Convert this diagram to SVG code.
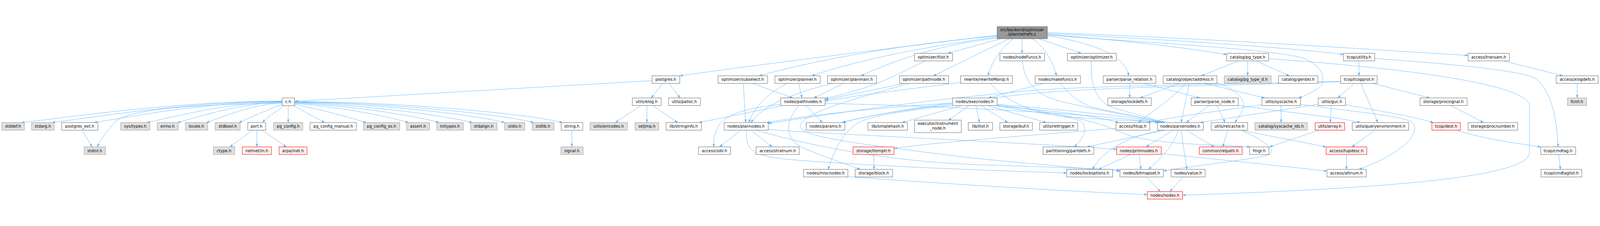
<svg xmlns="http://www.w3.org/2000/svg" width="5263" height="579" viewBox="0 0 5263 579" style="width:100%;height:100%">
<defs>
<marker id="a" markerUnits="userSpaceOnUse" viewBox="0 0 10 7" refX="10" refY="3.5" markerWidth="10" markerHeight="7" orient="auto">
<path d="M0,0 L10,3.5 L0,7 z" fill="#63b8ff" stroke="#63b8ff" stroke-width="0.6"/>
</marker>
<style>
.e path{fill:none;stroke:#63b8ff;stroke-width:1.2;marker-end:url(#a)}
rect{fill:#ffffff;stroke:#666666;stroke-width:1.3}
.g rect{fill:#e0e0e0;stroke:#999999}
.r rect{fill:#fff0f0;stroke:#ff0000}
.t rect{fill:#999999;stroke:#666666}
text{font-family:"DejaVu Sans","Liberation Sans",sans-serif;font-size:13px;text-anchor:middle;fill:#000000}
</style>
</defs>
<rect x="0" y="0" width="5263" height="579" style="fill:#ffffff;stroke:none"/>
<g id="edges" class="e">
<path d="M3280,33 C2900,80 2500,130 2236,167"/>
<path d="M3280,36 C3000,60 2700,110 2497,167"/>
<path d="M3280,39 C3050,70 2820,115 2670,167"/>
<path d="M3280,42 C3150,60 3010,85 2832,167"/>
<path d="M3292,45 L3117,93"/>
<path d="M3320,45 L3070,167"/>
<path d="M3332,45 C3290,80 3262,120 3250,167"/>
<path d="M3362,45 L3362,93"/>
<path d="M3395,45 C3425,62 3462,110 3475,167"/>
<path d="M3417,45 L3557,93"/>
<path d="M3445,35 C3600,60 3700,100 3713,167"/>
<path d="M3445,31 C3700,50 3900,75 4035,97"/>
<path d="M3445,33 C3800,60 4200,80 4290,110 C4345,135 4355,160 4350,190 C4345,210 4300,229 4272,240"/>
<path d="M3445,28 C3900,50 4300,80 4419,97"/>
<path d="M3445,25 C4000,45 4500,80 4829,100"/>
<path d="M2145,183 L970,251"/>
<path d="M2179,192 L2142,240"/>
<path d="M2201,192 L2237,240"/>
<path d="M928,250 C585,252 285,296 70,321"/>
<path d="M928,251 C625,253 360,296 171,321"/>
<path d="M928,252 C680,254 464,296 309,321"/>
<path d="M928,253 C750,256 594,297 483,321"/>
<path d="M928,254 C790,258 670,297 584,321"/>
<path d="M928,256 C828,262 741,299 679,321"/>
<path d="M930,261 C880,279 822,304 786,321"/>
<path d="M935,265 C905,289 875,304 864,321"/>
<path d="M928,257 C600,262 420,280 380,318 C355,343 330,378 320,401"/>
<path d="M948,265 L948,321"/>
<path d="M965,265 L1068,321"/>
<path d="M969,261 C1060,279 1150,304 1205,321"/>
<path d="M969,258 C1120,270 1270,299 1343,321"/>
<path d="M969,256 C1160,266 1370,299 1444,321"/>
<path d="M969,255 C1200,262 1470,299 1553,321"/>
<path d="M969,254 C1250,258 1570,297 1660,321"/>
<path d="M969,253 C1280,255 1660,295 1755,321"/>
<path d="M969,252 C1320,252 1750,294 1850,321"/>
<path d="M270,346 L303,401"/>
<path d="M830,346 L756,401"/>
<path d="M845,346 L845,401"/>
<path d="M862,346 L942,401"/>
<path d="M1881,346 L1881,401"/>
<path d="M2108,265 L2024,321"/>
<path d="M2128,265 L2128,321"/>
<path d="M2147,265 L2229,321"/>
<path d="M2475,192 L2608,240"/>
<path d="M2445,192 L2453,321"/>
<path d="M2627,192 L2638,240"/>
<path d="M2590,192 C2530,220 2480,270 2463,321"/>
<path d="M2775,192 L2677,240"/>
<path d="M2738,192 C2650,215 2520,250 2470,321"/>
<path d="M3045,118 C2950,160 2900,200 2714,242"/>
<path d="M2975,192 C2880,212 2780,232 2714,246"/>
<path d="M2993,192 C2780,250 2610,300 2635,340 C2660,375 2900,400 3200,438 C3450,462 3600,475 3684,481"/>
<path d="M3160,189 C2950,215 2800,235 2714,250"/>
<path d="M3257,192 C3320,260 3400,290 3520,303 C3650,313 3780,316 3823,321"/>
<path d="M3434,192 L3251,240"/>
<path d="M3488,192 C3530,240 3560,265 3620,277 C3700,293 3780,308 3827,321"/>
<path d="M3363,118 C3370,200 3420,235 3500,254 C3650,288 3780,310 3820,321"/>
<path d="M3590,118 C3585,200 3610,255 3660,271 C3730,293 3800,311 3832,321"/>
<path d="M3716,192 L3716,240"/>
<path d="M3762,192 L3947,240"/>
<path d="M4073,118 L3952,167"/>
<path d="M4104,118 L4104,167"/>
<path d="M4132,118 L4241,167"/>
<path d="M4173,111 C4600,140 5000,190 5031,260 L5031,420 C5031,497 4600,537 3890,560"/>
<path d="M3879,192 L3750,240"/>
<path d="M3899,192 C3850,250 3780,290 3745,321"/>
<path d="M3912,192 L3885,321"/>
<path d="M3963,192 L4160,240"/>
<path d="M4003,190 C4060,210 4095,240 4090,270 C4085,293 4070,308 4062,321"/>
<path d="M3977,265 L3902,321"/>
<path d="M4003,265 L4030,321"/>
<path d="M4073,264 C4250,290 4400,303 4475,321"/>
<path d="M4151,262 C4000,285 3850,303 3775,321"/>
<path d="M4214,265 L4214,321"/>
<path d="M4278,261 C4450,285 4620,300 4645,320 C4680,360 4600,428 4470,475"/>
<path d="M4336,261 L3947,321"/>
<path d="M4379,265 L4376,321"/>
<path d="M4426,262 C4550,285 4660,303 4714,321"/>
<path d="M4455,192 L4400,240"/>
<path d="M4476,192 L4532,321"/>
<path d="M4515,192 L4703,240"/>
<path d="M4410,187 C4000,200 3600,205 3400,225 C3100,255 2850,298 2772,321"/>
<path d="M4410,185 C4000,195 3600,200 3400,215 C3000,250 2700,298 2527,324"/>
<path d="M4470,118 L4470,167"/>
<path d="M4522,110 C4800,130 5000,150 5050,175 C5110,220 5122,330 5125,401"/>
<path d="M4944,118 L5141,167"/>
<path d="M5188,192 L5188,240"/>
<path d="M4773,265 L4880,321"/>
<path d="M4793,346 C4870,373 4980,388 5068,401"/>
<path d="M5127,426 L5133,475"/>
<path d="M3133,257 C2900,270 2650,298 2522,321"/>
<path d="M3133,261 C3000,275 2850,298 2770,321"/>
<path d="M3163,265 L2967,321"/>
<path d="M3188,265 L3120,313"/>
<path d="M3210,265 L3222,321"/>
<path d="M3227,265 L3315,321"/>
<path d="M3249,265 L3442,321"/>
<path d="M3133,265 C2950,285 2850,300 2810,330 C2760,370 2740,428 2724,475"/>
<path d="M3280,267 C3450,280 3600,298 3680,321"/>
<path d="M3280,261 C3500,280 3700,298 3815,321"/>
<path d="M3280,265 C3400,290 3540,300 3560,320 C3580,345 3560,378 3533,401"/>
<path d="M3280,263 C3500,290 3620,320 3700,358 C3780,393 4000,394 4112,401"/>
<path d="M2568,261 C2400,280 2345,310 2348,401"/>
<path d="M2574,265 L2299,321"/>
<path d="M2652,265 L2705,321"/>
<path d="M2628,265 C2580,320 2580,380 2650,408 C2720,437 2780,457 2830,475"/>
<path d="M2714,258 C3000,264 3500,283 3810,321"/>
<path d="M2438,346 L2367,401"/>
<path d="M2470,346 L2540,401"/>
<path d="M2527,344 C2800,363 3300,383 3673,409"/>
<path d="M2456,346 C2450,418 2480,430 2600,443 C2900,467 3300,480 3509,487"/>
<path d="M2487,346 C2650,393 2900,447 3200,459 C3450,467 3600,473 3684,477"/>
<path d="M3672,340 C3400,363 3100,383 2941,406"/>
<path d="M2874,426 L2875,475"/>
<path d="M3831,346 L3576,401"/>
<path d="M3817,347 C3720,368 3640,398 3593,475"/>
<path d="M3860,346 L3770,401"/>
<path d="M3876,346 C3860,398 3820,437 3778,475"/>
<path d="M3885,346 L3904,475"/>
<path d="M3902,346 L3994,401"/>
<path d="M4039,346 L4022,401"/>
<path d="M4081,346 L4362,401"/>
<path d="M4081,346 C4160,378 4210,418 4165,430 C4050,452 3900,467 3827,480"/>
<path d="M4339,346 L4176,401"/>
<path d="M4523,346 L4447,401"/>
<path d="M4429,426 L4429,475"/>
<path d="M3719,426 L3613,475"/>
<path d="M3747,426 L3753,475"/>
<path d="M3820,423 C4000,442 4250,467 4365,481"/>
<path d="M3770,500 L3817,548"/>
<path d="M3893,500 L3848,548"/>
<path d="M2789,499 C3100,522 3500,547 3774,558"/>
</g>
<g id="nodes">
<g id="n_setrefs" class="t"><rect x="3280" y="5" width="165" height="40"/><text x="3362" y="20">src/backend/optimizer</text><text x="3362" y="35">/plan/setrefs.c</text></g>
<g id="n_tlist"><rect x="3008" y="93" width="125" height="25"/><text x="3070" y="110">optimizer/tlist.h</text></g>
<g id="n_nodeFuncs"><rect x="3289" y="93" width="147" height="25"/><text x="3362" y="110">nodes/nodeFuncs.h</text></g>
<g id="n_optimizer"><rect x="3511" y="93" width="161" height="25"/><text x="3591" y="110">optimizer/optimizer.h</text></g>
<g id="n_pg_type"><rect x="4035" y="93" width="138" height="25"/><text x="4104" y="110">catalog/pg_type.h</text></g>
<g id="n_utility"><rect x="4419" y="93" width="103" height="25"/><text x="4470" y="110">tcop/utility.h</text></g>
<g id="n_transam"><rect x="4829" y="93" width="136" height="25"/><text x="4897" y="110">access/transam.h</text></g>
<g id="n_postgres"><rect x="2145" y="167" width="91" height="25"/><text x="2190" y="184">postgres.h</text></g>
<g id="n_subselect"><rect x="2362" y="167" width="163" height="25"/><text x="2443" y="184">optimizer/subselect.h</text></g>
<g id="n_planner"><rect x="2549" y="167" width="149" height="25"/><text x="2623" y="184">optimizer/planner.h</text></g>
<g id="n_planmain"><rect x="2722" y="167" width="161" height="25"/><text x="2802" y="184">optimizer/planmain.h</text></g>
<g id="n_pathnode"><rect x="2959" y="167" width="161" height="25"/><text x="3039" y="184">optimizer/pathnode.h</text></g>
<g id="n_rewriteManip"><rect x="3160" y="167" width="170" height="25"/><text x="3245" y="184">rewrite/rewriteManip.h</text></g>
<g id="n_makefuncs"><rect x="3405" y="167" width="149" height="25"/><text x="3479" y="184">nodes/makefuncs.h</text></g>
<g id="n_parse_relation"><rect x="3629" y="167" width="173" height="25"/><text x="3715" y="184">parser/parse_relation.h</text></g>
<g id="n_objectaddress"><rect x="3826" y="167" width="177" height="25"/><text x="3914" y="184">catalog/objectaddress.h</text></g>
<g id="n_pg_type_d" class="g"><rect x="4027" y="167" width="154" height="25"/><text x="4104" y="184">catalog/pg_type_d.h</text></g>
<g id="n_genbki"><rect x="4205" y="167" width="130" height="25"/><text x="4270" y="184">catalog/genbki.h</text></g>
<g id="n_tcopprot"><rect x="4410" y="167" width="120" height="25"/><text x="4470" y="184">tcop/tcopprot.h</text></g>
<g id="n_xlogdefs"><rect x="5119" y="167" width="138" height="25"/><text x="5188" y="184">access/xlogdefs.h</text></g>
<g id="n_c"><rect x="928" y="240" width="41" height="25"/><text x="948" y="257">c.h</text></g>
<g id="n_elog"><rect x="2080" y="240" width="95" height="25"/><text x="2127" y="257">utils/elog.h</text></g>
<g id="n_palloc"><rect x="2199" y="240" width="105" height="25"/><text x="2251" y="257">utils/palloc.h</text></g>
<g id="n_pathnodes"><rect x="2568" y="240" width="146" height="25"/><text x="2641" y="257">nodes/pathnodes.h</text></g>
<g id="n_execnodes"><rect x="3133" y="240" width="147" height="25"/><text x="3206" y="257">nodes/execnodes.h</text></g>
<g id="n_lockdefs"><rect x="3644" y="240" width="143" height="25"/><text x="3715" y="257">storage/lockdefs.h</text></g>
<g id="n_parse_node"><rect x="3918" y="240" width="155" height="25"/><text x="3995" y="257">parser/parse_node.h</text></g>
<g id="n_syscache"><rect x="4151" y="240" width="127" height="25"/><text x="4214" y="257">utils/syscache.h</text></g>
<g id="n_guc"><rect x="4336" y="240" width="90" height="25"/><text x="4381" y="257">utils/guc.h</text></g>
<g id="n_procsignal"><rect x="4671" y="240" width="155" height="25"/><text x="4748" y="257">storage/procsignal.h</text></g>
<g id="n_fcntl" class="g"><rect x="5156" y="240" width="63" height="25"/><text x="5187" y="257">fcntl.h</text></g>
<g id="n_stddef" class="g"><rect x="6" y="321" width="74" height="25"/><text x="43" y="338">stddef.h</text></g>
<g id="n_stdarg" class="g"><rect x="104" y="321" width="74" height="25"/><text x="141" y="338">stdarg.h</text></g>
<g id="n_postgres_ext"><rect x="203" y="321" width="119" height="25"/><text x="262" y="338">postgres_ext.h</text></g>
<g id="n_systypes" class="g"><rect x="397" y="321" width="96" height="25"/><text x="445" y="338">sys/types.h</text></g>
<g id="n_errno" class="g"><rect x="517" y="321" width="69" height="25"/><text x="551" y="338">errno.h</text></g>
<g id="n_locale" class="g"><rect x="610" y="321" width="73" height="25"/><text x="646" y="338">locale.h</text></g>
<g id="n_stdbool" class="g"><rect x="708" y="321" width="82" height="25"/><text x="749" y="338">stdbool.h</text></g>
<g id="n_port"><rect x="815" y="321" width="59" height="25"/><text x="844" y="338">port.h</text></g>
<g id="n_pg_config" class="g"><rect x="900" y="321" width="96" height="25"/><text x="948" y="338">pg_config.h</text></g>
<g id="n_pg_config_manual"><rect x="1020" y="321" width="152" height="25"/><text x="1096" y="338">pg_config_manual.h</text></g>
<g id="n_pg_config_os" class="g"><rect x="1196" y="321" width="119" height="25"/><text x="1255" y="338">pg_config_os.h</text></g>
<g id="n_assert" class="g"><rect x="1338" y="321" width="75" height="25"/><text x="1375" y="338">assert.h</text></g>
<g id="n_inttypes" class="g"><rect x="1437" y="321" width="87" height="25"/><text x="1480" y="338">inttypes.h</text></g>
<g id="n_stdalign" class="g"><rect x="1548" y="321" width="87" height="25"/><text x="1591" y="338">stdalign.h</text></g>
<g id="n_stdio" class="g"><rect x="1660" y="321" width="66" height="25"/><text x="1693" y="338">stdio.h</text></g>
<g id="n_stdlib" class="g"><rect x="1751" y="321" width="71" height="25"/><text x="1786" y="338">stdlib.h</text></g>
<g id="n_string"><rect x="1846" y="321" width="71" height="25"/><text x="1881" y="338">string.h</text></g>
<g id="n_errcodes" class="g"><rect x="1941" y="321" width="123" height="25"/><text x="2002" y="338">utils/errcodes.h</text></g>
<g id="n_setjmp" class="g"><rect x="2089" y="321" width="78" height="25"/><text x="2128" y="338">setjmp.h</text></g>
<g id="n_stringinfo"><rect x="2191" y="321" width="116" height="25"/><text x="2249" y="338">lib/stringinfo.h</text></g>
<g id="n_plannodes"><rect x="2382" y="321" width="145" height="25"/><text x="2454" y="338">nodes/plannodes.h</text></g>
<g id="n_params"><rect x="2652" y="321" width="127" height="25"/><text x="2715" y="338">nodes/params.h</text></g>
<g id="n_simplehash"><rect x="2855" y="321" width="130" height="25"/><text x="2920" y="338">lib/simplehash.h</text></g>
<g id="n_instrument_node"><rect x="3008" y="313" width="154" height="41"/><text x="3085" y="329">executor/instrument</text><text x="3085" y="344">_node.h</text></g>
<g id="n_ilist"><rect x="3185" y="321" width="80" height="25"/><text x="3225" y="338">lib/ilist.h</text></g>
<g id="n_buf"><rect x="3289" y="321" width="107" height="25"/><text x="3342" y="338">storage/buf.h</text></g>
<g id="n_reltrigger"><rect x="3420" y="321" width="125" height="25"/><text x="3482" y="338">utils/reltrigger.h</text></g>
<g id="n_htup"><rect x="3671" y="321" width="111" height="25"/><text x="3726" y="338">access/htup.h</text></g>
<g id="n_parsenodes"><rect x="3807" y="321" width="151" height="25"/><text x="3882" y="338">nodes/parsenodes.h</text></g>
<g id="n_relcache"><rect x="3984" y="321" width="120" height="25"/><text x="4044" y="338">utils/relcache.h</text></g>
<g id="n_syscache_ids" class="g"><rect x="4128" y="321" width="172" height="25"/><text x="4214" y="338">catalog/syscache_ids.h</text></g>
<g id="n_array" class="r"><rect x="4326" y="321" width="97" height="25"/><text x="4374" y="338">utils/array.h</text></g>
<g id="n_queryenvironment"><rect x="4448" y="321" width="186" height="25"/><text x="4541" y="338">utils/queryenvironment.h</text></g>
<g id="n_dest" class="r"><rect x="4710" y="321" width="94" height="25"/><text x="4757" y="338">tcop/dest.h</text></g>
<g id="n_procnumber"><rect x="4829" y="321" width="163" height="25"/><text x="4910" y="338">storage/procnumber.h</text></g>
<g id="n_stdint" class="g"><rect x="277" y="401" width="70" height="25"/><text x="312" y="418">stdint.h</text></g>
<g id="n_ctype" class="g"><rect x="702" y="401" width="70" height="25"/><text x="737" y="418">ctype.h</text></g>
<g id="n_netinet" class="r"><rect x="797" y="401" width="96" height="25"/><text x="845" y="418">netinet/in.h</text></g>
<g id="n_arpa" class="r"><rect x="918" y="401" width="92" height="25"/><text x="964" y="418">arpa/inet.h</text></g>
<g id="n_signal" class="g"><rect x="1845" y="401" width="73" height="25"/><text x="1881" y="418">signal.h</text></g>
<g id="n_sdir"><rect x="2298" y="401" width="105" height="25"/><text x="2350" y="418">access/sdir.h</text></g>
<g id="n_stratnum"><rect x="2487" y="401" width="142" height="25"/><text x="2558" y="418">access/stratnum.h</text></g>
<g id="n_itemptr" class="r"><rect x="2806" y="401" width="135" height="25"/><text x="2873" y="418">storage/itemptr.h</text></g>
<g id="n_partdefs"><rect x="3431" y="401" width="167" height="25"/><text x="3514" y="418">partitioning/partdefs.h</text></g>
<g id="n_primnodes" class="r"><rect x="3673" y="401" width="147" height="25"/><text x="3746" y="418">nodes/primnodes.h</text></g>
<g id="n_relpath" class="r"><rect x="3945" y="401" width="141" height="25"/><text x="4015" y="418">common/relpath.h</text></g>
<g id="n_fmgr"><rect x="4110" y="401" width="64" height="25"/><text x="4142" y="418">fmgr.h</text></g>
<g id="n_tupdesc" class="r"><rect x="4362" y="401" width="134" height="25"/><text x="4429" y="418">access/tupdesc.h</text></g>
<g id="n_cmdtag"><rect x="5068" y="401" width="115" height="25"/><text x="5125" y="418">tcop/cmdtag.h</text></g>
<g id="n_miscnodes"><rect x="2643" y="475" width="146" height="25"/><text x="2716" y="492">nodes/miscnodes.h</text></g>
<g id="n_block"><rect x="2813" y="475" width="123" height="25"/><text x="2874" y="492">storage/block.h</text></g>
<g id="n_lockoptions"><rect x="3509" y="475" width="151" height="25"/><text x="3584" y="492">nodes/lockoptions.h</text></g>
<g id="n_bitmapset"><rect x="3684" y="475" width="143" height="25"/><text x="3755" y="492">nodes/bitmapset.h</text></g>
<g id="n_value"><rect x="3852" y="475" width="112" height="25"/><text x="3908" y="492">nodes/value.h</text></g>
<g id="n_attnum"><rect x="4365" y="475" width="129" height="25"/><text x="4429" y="492">access/attnum.h</text></g>
<g id="n_cmdtaglist"><rect x="5069" y="475" width="134" height="25"/><text x="5136" y="492">tcop/cmdtaglist.h</text></g>
<g id="n_nodes" class="r"><rect x="3774" y="548" width="116" height="25"/><text x="3832" y="565">nodes/nodes.h</text></g>
</g>
</svg>
